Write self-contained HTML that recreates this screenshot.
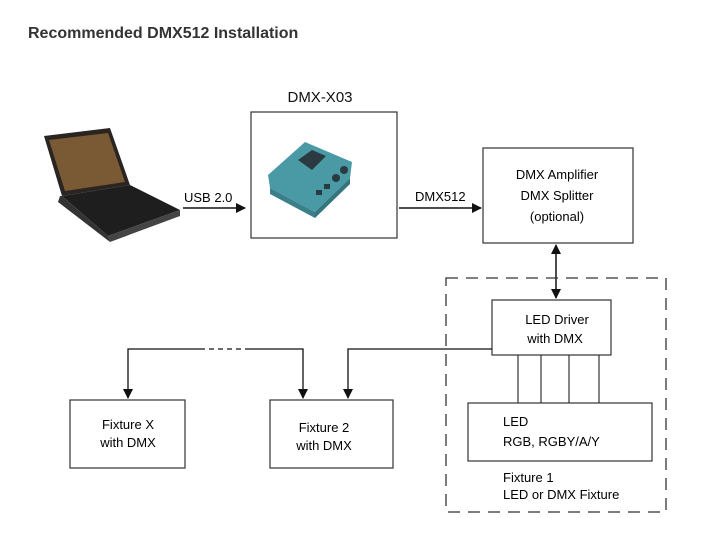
<!DOCTYPE html>
<html><head><style>
body{margin:0;background:#fff;}
svg{display:block;font-family:"Liberation Sans",Arial,sans-serif;}
</style></head><body>
<svg width="715" height="538" viewBox="0 0 715 538">
<defs><marker id="a" markerWidth="10" markerHeight="10" refX="9" refY="5" orient="auto" markerUnits="userSpaceOnUse"><path d="M0,0 L10,5 L0,10 z" fill="#111"/></marker>
<marker id="b" markerWidth="10" markerHeight="10" refX="1" refY="5" orient="auto" markerUnits="userSpaceOnUse"><path d="M10,0 L0,5 L10,10 z" fill="#111"/></marker></defs>
<text x="28" y="38" font-size="16" font-weight="bold" fill="#333">Recommended DMX512 Installation</text>
<!-- laptop -->
<polygon points="44,136 110,128 130,185 62,196" fill="#2a2520"/>
<polygon points="49,140 108,133 125,182 65,191" fill="#7a5a35"/>
<polygon points="62,196 130,185 180,210 108,236" fill="#1e1e1e"/>
<polygon points="108,236 180,210 180,216 110,242" fill="#444"/>
<polygon points="60,196 62,196 108,236 110,242 58,202" fill="#333"/>
<text x="320" y="102" font-size="15" text-anchor="middle" fill="#111">DMX-X03</text>
<rect x="251" y="112" width="146" height="126" fill="#fff" stroke="#333" stroke-width="1.2"/>
<polygon points="268,175 305,142 352,162 350,178 315,212 270,188" fill="#4a9aa6"/>
<polygon points="270,188 315,212 315,218 270,194" fill="#3a7f8a"/>
<polygon points="315,212 350,178 350,184 315,218" fill="#357580"/>
<polygon points="298,160 312,150 326,156 312,170" fill="#2a3a40"/>
<circle cx="336" cy="178" r="4" fill="#2a3a40"/><circle cx="344" cy="170" r="4" fill="#2a3a40"/>
<rect x="316" y="190" width="6" height="5" fill="#2a3a40"/><rect x="324" y="184" width="6" height="5" fill="#2a3a40"/>
<text x="184" y="202" font-size="13">USB 2.0</text>
<line x1="183" y1="208" x2="245" y2="208" stroke="#111" stroke-width="1.5" marker-end="url(#a)"/>
<text x="415" y="201" font-size="13">DMX512</text>
<line x1="399" y1="208" x2="481" y2="208" stroke="#111" stroke-width="1.5" marker-end="url(#a)"/>
<rect x="483" y="148" width="150" height="95" fill="#fff" stroke="#333" stroke-width="1.2"/>
<text font-size="13" text-anchor="middle"><tspan x="557" y="179">DMX Amplifier</tspan><tspan x="557" y="200">DMX Splitter</tspan><tspan x="557" y="221">(optional)</tspan></text>
<line x1="556" y1="245" x2="556" y2="298" stroke="#111" stroke-width="1.5" marker-end="url(#a)" marker-start="url(#b)"/>
<rect x="446" y="278" width="220" height="234" fill="none" stroke="#333" stroke-width="1.3" stroke-dasharray="12,8"/>
<rect x="492" y="300" width="119" height="55" fill="#fff" stroke="#333" stroke-width="1.2"/>
<text font-size="13" text-anchor="middle"><tspan x="557" y="324">LED Driver</tspan><tspan x="555" y="343">with DMX</tspan></text>
<g stroke="#333" stroke-width="1.2"><line x1="518" y1="355" x2="518" y2="403"/><line x1="541" y1="355" x2="541" y2="403"/><line x1="569" y1="355" x2="569" y2="403"/><line x1="599" y1="355" x2="599" y2="403"/></g>
<rect x="468" y="403" width="184" height="58" fill="#fff" stroke="#333" stroke-width="1.2"/>
<text font-size="13"><tspan x="503" y="426">LED</tspan><tspan x="503" y="446">RGB, RGBY/A/Y</tspan><tspan x="503" y="482">Fixture 1</tspan><tspan x="503" y="499">LED or DMX Fixture</tspan></text>
<polyline points="492,349 348,349 348,398" fill="none" stroke="#111" stroke-width="1.3" marker-end="url(#a)"/>
<polyline points="200,349 128,349 128,398" fill="none" stroke="#111" stroke-width="1.3" marker-end="url(#a)"/>
<polyline points="245,349 303,349 303,398" fill="none" stroke="#111" stroke-width="1.3" marker-end="url(#a)"/>
<line x1="200" y1="349" x2="245" y2="349" stroke="#111" stroke-width="1.3" stroke-dasharray="5,4"/>
<rect x="70" y="400" width="115" height="68" fill="#fff" stroke="#333" stroke-width="1.2"/>
<text font-size="13" text-anchor="middle"><tspan x="128" y="429">Fixture X</tspan><tspan x="128" y="447">with DMX</tspan></text>
<rect x="270" y="400" width="123" height="68" fill="#fff" stroke="#333" stroke-width="1.2"/>
<text font-size="13" text-anchor="middle"><tspan x="324" y="432">Fixture 2</tspan><tspan x="324" y="450">with DMX</tspan></text>
</svg>
</body></html>
